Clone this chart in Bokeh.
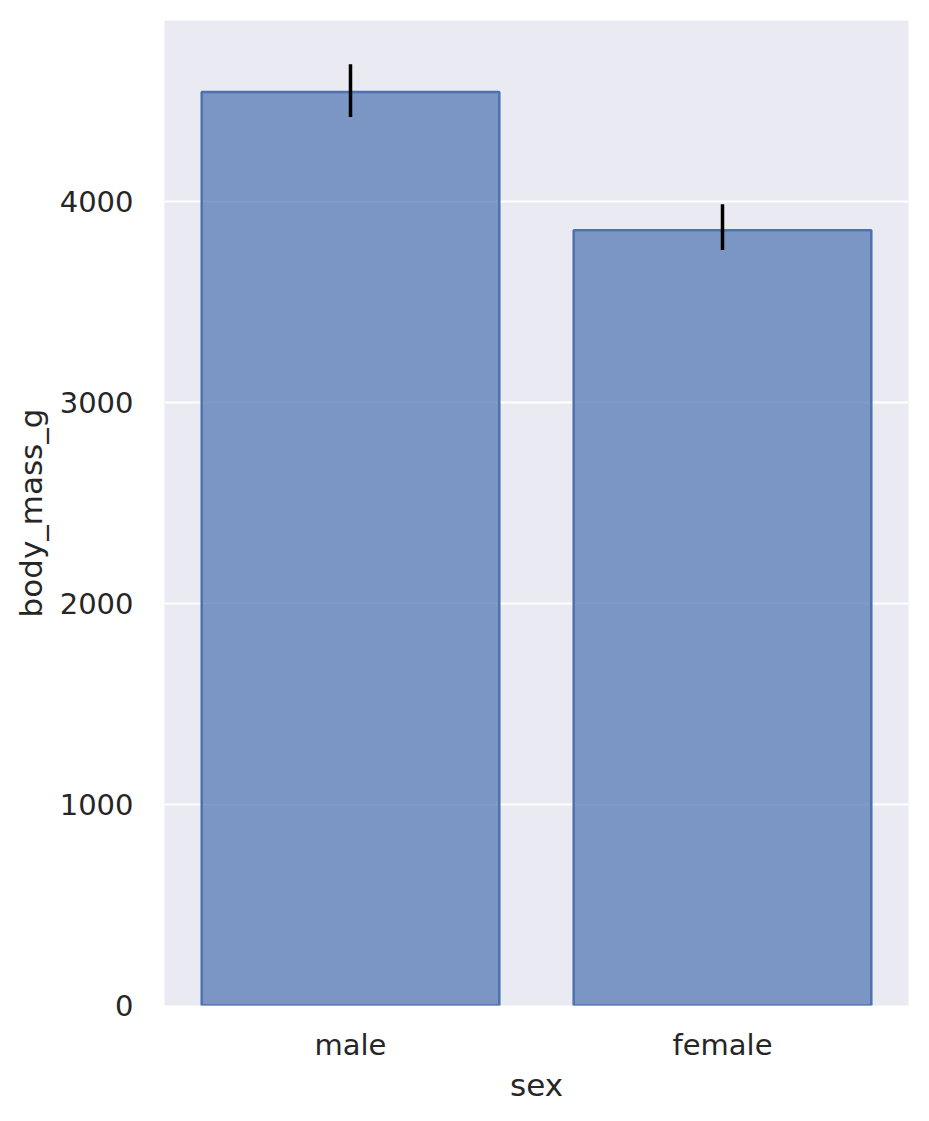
from bokeh.plotting import figure
from bokeh.models import Range1d, FactorRange, ColumnDataSource
from bokeh.embed import file_html
from bokeh.resources import INLINE

categories = ["male", "female"]
means = [4543, 3856]
ci_low = [4419, 3757]
ci_high = [4681, 3985]

src = ColumnDataSource(dict(cat=categories, mean=means, lo=ci_low, hi=ci_high))

p = figure(width=913, height=1105, x_range=FactorRange(*categories, range_padding=0),
           y_range=Range1d(0, 4899), output_backend="svg", toolbar_location=None,
           min_border_left=164, min_border_right=5, min_border_top=20, min_border_bottom=99)
p.background_fill_color = "#eaeaf2"
p.border_fill_color = "white"
p.outline_line_color = None

p.vbar(x="cat", top="mean", width=0.8, source=src, fill_color="#4c72b0", fill_alpha=0.7,
       line_color="#4c72b0", line_width=2.5)
p.segment(x0="cat", y0="lo", x1="cat", y1="hi", source=src, line_color="black", line_width=3.5)

p.xgrid.grid_line_color = None
p.ygrid.grid_line_color = "white"
p.ygrid.grid_line_width = 2
p.yaxis.ticker = [0, 1000, 2000, 3000, 4000]

for ax in (p.xaxis, p.yaxis):
    ax.axis_line_color = None
    ax.major_tick_line_color = None
    ax.minor_tick_line_color = None
    ax.major_tick_out = 0
    ax.major_tick_in = 0
    ax.major_label_text_font = "DejaVu Sans"
    ax.major_label_text_font_size = "29px"
    ax.major_label_text_color = "#262626"
    ax.axis_label_text_font = "DejaVu Sans"
    ax.axis_label_text_font_size = "31px"
    ax.axis_label_text_font_style = "normal"
    ax.axis_label_text_color = "#262626"

p.xaxis.axis_label = "sex"
p.yaxis.axis_label = "body_mass_g"
p.xaxis.major_label_standoff = 22
p.yaxis.major_label_standoff = 31
p.xaxis.axis_label_standoff = 2
p.yaxis.axis_label_standoff = 8

open("out.html", "w").write(file_html(p, INLINE))
